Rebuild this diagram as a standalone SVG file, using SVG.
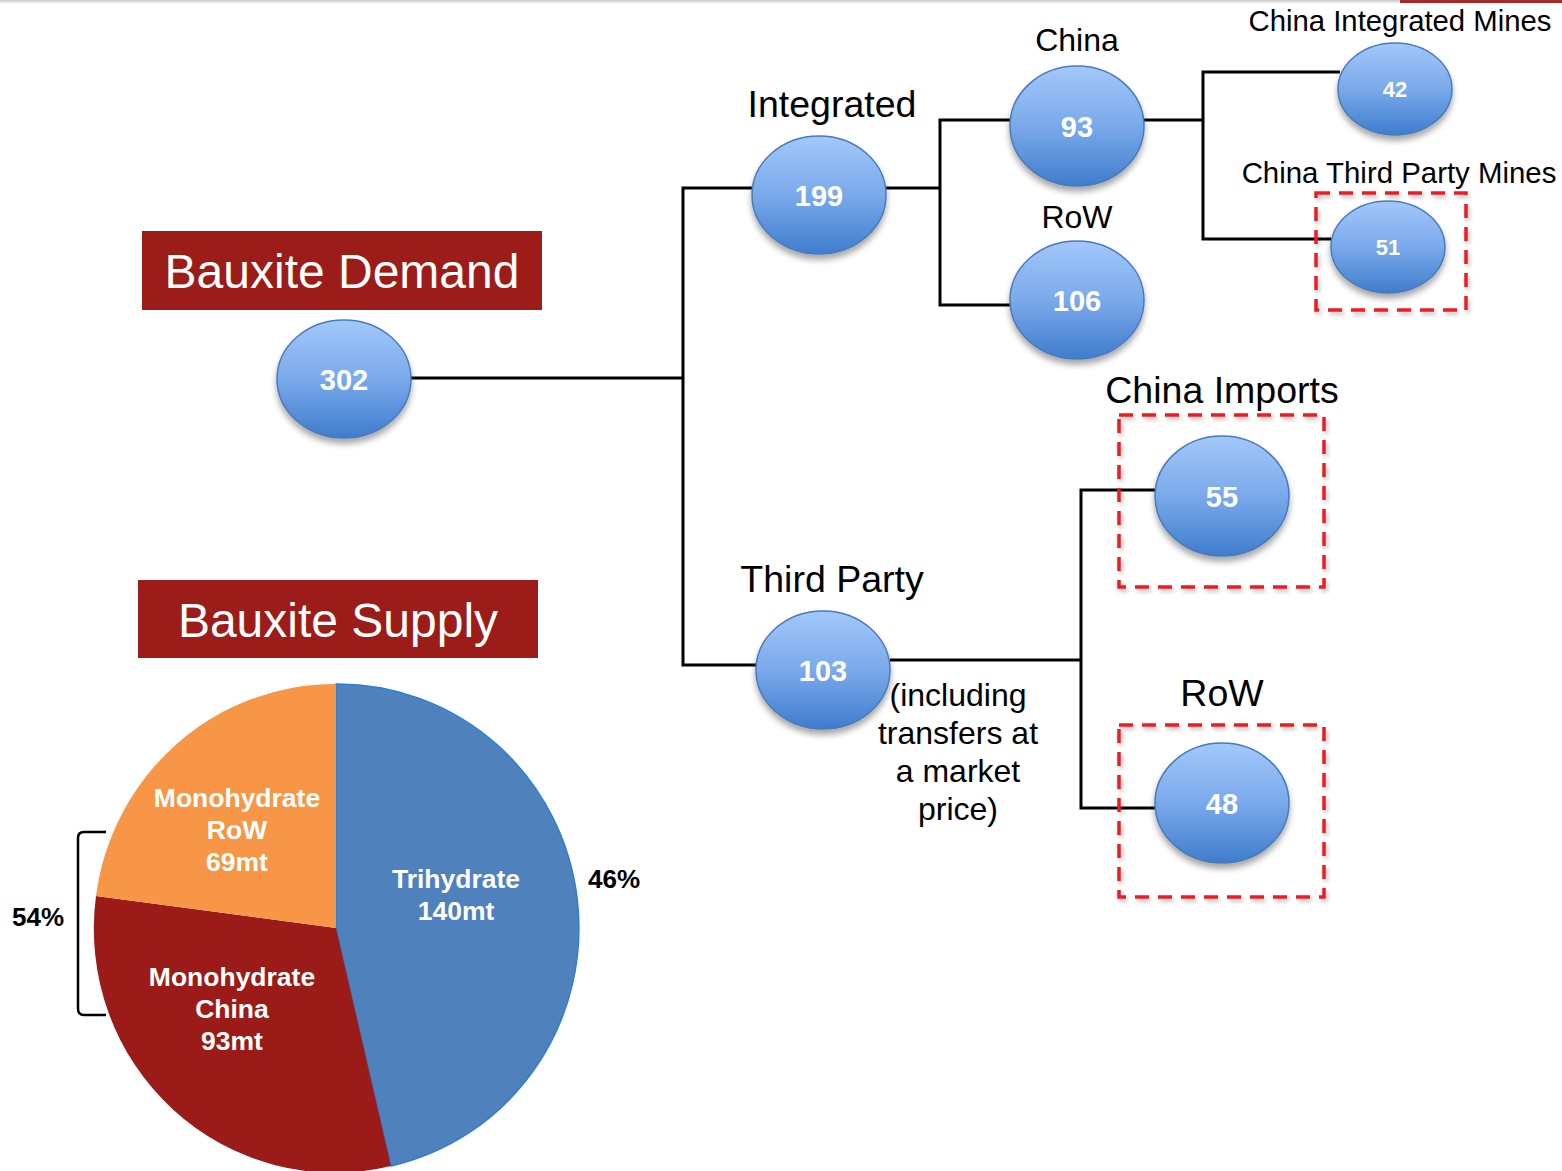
<svg xmlns="http://www.w3.org/2000/svg" width="1562" height="1171" viewBox="0 0 1562 1171">
<defs>
<linearGradient id="bub" x1="0" y1="0" x2="0" y2="1">
<stop offset="0" stop-color="#a3c8fa"/>
<stop offset="0.5" stop-color="#7aa9eb"/>
<stop offset="1" stop-color="#3f7dcd"/>
</linearGradient>
<filter id="sh" x="-30%" y="-30%" width="160%" height="170%">
<feGaussianBlur in="SourceAlpha" stdDeviation="3"/>
<feOffset dx="0" dy="5" result="b"/>
<feComponentTransfer><feFuncA type="linear" slope="0.35"/></feComponentTransfer>
<feMerge><feMergeNode/><feMergeNode in="SourceGraphic"/></feMerge>
</filter>
<filter id="dsh" x="-10%" y="-10%" width="120%" height="120%">
<feGaussianBlur in="SourceAlpha" stdDeviation="2"/>
<feOffset dx="2" dy="3" result="b"/>
<feComponentTransfer><feFuncA type="linear" slope="0.25"/></feComponentTransfer>
<feMerge><feMergeNode/><feMergeNode in="SourceGraphic"/></feMerge>
</filter>
<linearGradient id="topline" x1="0" y1="0" x2="0" y2="1">
<stop offset="0" stop-color="#c8c8c8"/>
<stop offset="1" stop-color="#ffffff"/>
</linearGradient>
</defs>
<style>
.bub{fill:url(#bub);stroke:#4a7ab8;stroke-width:1.5;filter:url(#sh)}
.num{font-family:"Liberation Sans",Arial,sans-serif;font-weight:bold;fill:#fff;text-anchor:middle}
.lbl{font-family:"Liberation Sans",Arial,sans-serif;fill:#000;text-anchor:middle}
.conn{fill:none;stroke:#000;stroke-width:3}
.dash{fill:none;stroke:#ee1c24;stroke-width:3.5;stroke-dasharray:14 9;filter:url(#dsh)}
.title{fill:#9b1c18}
.ttxt{font-family:"Liberation Sans",Arial,sans-serif;fill:#fff;font-size:48px;text-anchor:middle}
.pie{font-family:"Liberation Sans",Arial,sans-serif;font-weight:bold;fill:#fff;font-size:26.5px;text-anchor:middle}
.pct{font-family:"Liberation Sans",Arial,sans-serif;font-weight:bold;fill:#000;font-size:26px}
</style>
<rect x="0" y="0" width="1562" height="4" fill="url(#topline)"/>
<rect x="1400" y="0" width="162" height="3" fill="#a52a2a"/>

<g id="connectors">
<polyline class="conn" points="411,378 683,378"/>
<polyline class="conn" points="752,188 683,188 683,665 757,665"/>
<polyline class="conn" points="886,188 940,188"/>
<polyline class="conn" points="1010,120 940,120 940,305 1013,305"/>
<polyline class="conn" points="1144,120 1203,120"/>
<polyline class="conn" points="1340,72 1203,72 1203,239 1331,239"/>
<polyline class="conn" points="890,660 1081,660"/>
<polyline class="conn" points="1157,490 1081,490 1081,808 1157,808"/>
</g>

<g id="title-demand">
<rect class="title" x="142" y="231" width="400" height="79"/>
<text class="ttxt" x="342" y="288">Bauxite Demand</text>
</g>
<g id="title-supply">
<rect class="title" x="138" y="580" width="400" height="78"/>
<text class="ttxt" x="338" y="637">Bauxite Supply</text>
</g>

<g id="node-302">
<ellipse class="bub" cx="344" cy="379" rx="67" ry="59"/>
<text class="num" x="344" y="390" font-size="29">302</text>
</g>
<g id="node-199">
<text class="lbl" x="832" y="117" font-size="37.5">Integrated</text>
<ellipse class="bub" cx="819" cy="195" rx="67" ry="59"/>
<text class="num" x="819" y="206" font-size="29">199</text>
</g>
<g id="node-93">
<text class="lbl" x="1077" y="51" font-size="32">China</text>
<ellipse class="bub" cx="1077" cy="126" rx="67" ry="60"/>
<text class="num" x="1077" y="137" font-size="29">93</text>
</g>
<g id="node-106">
<text class="lbl" x="1077" y="228" font-size="32">RoW</text>
<ellipse class="bub" cx="1077" cy="300" rx="67" ry="59"/>
<text class="num" x="1077" y="311" font-size="29">106</text>
</g>
<g id="node-42">
<text class="lbl" x="1400" y="31" font-size="29.3">China Integrated Mines</text>
<ellipse class="bub" cx="1395" cy="89" rx="57" ry="46"/>
<text class="num" x="1395" y="97" font-size="22">42</text>
</g>
<g id="node-51">
<text class="lbl" x="1399" y="183" font-size="29.4">China Third Party Mines</text>
<rect class="dash" x="1316" y="193" width="150" height="117"/>
<ellipse class="bub" cx="1388" cy="247" rx="57" ry="46"/>
<text class="num" x="1388" y="255" font-size="22">51</text>
</g>
<g id="node-103">
<text class="lbl" x="832" y="592" font-size="37.5">Third Party</text>
<ellipse class="bub" cx="823" cy="670" rx="67" ry="59"/>
<text class="num" x="823" y="681" font-size="29">103</text>
<text class="lbl" font-size="32"><tspan x="958" y="706">(including</tspan><tspan x="958" y="744">transfers at</tspan><tspan x="958" y="782">a market</tspan><tspan x="958" y="820">price)</tspan></text>
</g>
<g id="node-55">
<text class="lbl" x="1222" y="403" font-size="37.5">China Imports</text>
<rect class="dash" x="1119" y="415" width="205" height="172"/>
<ellipse class="bub" cx="1222" cy="496" rx="67" ry="60"/>
<text class="num" x="1222" y="507" font-size="29">55</text>
</g>
<g id="node-48">
<text class="lbl" x="1222" y="706" font-size="37.5">RoW</text>
<rect class="dash" x="1119" y="725" width="205" height="172"/>
<ellipse class="bub" cx="1222" cy="803" rx="67" ry="60"/>
<text class="num" x="1222" y="814" font-size="29">48</text>
</g>

<g id="pie">
<path d="M336,928 L336,684 A241,244 0 0 1 391,1166 Z" fill="#4f81bd" stroke="#2f7fd0" stroke-width="1.5"/>
<path d="M336,928 L391,1166 A241,244 0 0 1 96,896 Z" fill="#9a1b17"/>
<path d="M336,928 L96,896 A241,244 0 0 1 336,684 Z" fill="#f79646"/>
<text class="pie"><tspan x="237" y="807">Monohydrate</tspan><tspan x="237" y="839">RoW</tspan><tspan x="237" y="871">69mt</tspan></text>
<text class="pie"><tspan x="456" y="888">Trihydrate</tspan><tspan x="456" y="920">140mt</tspan></text>
<text class="pie"><tspan x="232" y="986">Monohydrate</tspan><tspan x="232" y="1018">China</tspan><tspan x="232" y="1050">93mt</tspan></text>
<text class="pct" x="588" y="888">46%</text>
<text class="pct" x="12" y="926">54%</text>
<path d="M106,832 L84,832 Q78,832 78,838 L78,1009 Q78,1015 84,1015 L106,1015" fill="none" stroke="#000" stroke-width="2.5"/>
</g>
</svg>
